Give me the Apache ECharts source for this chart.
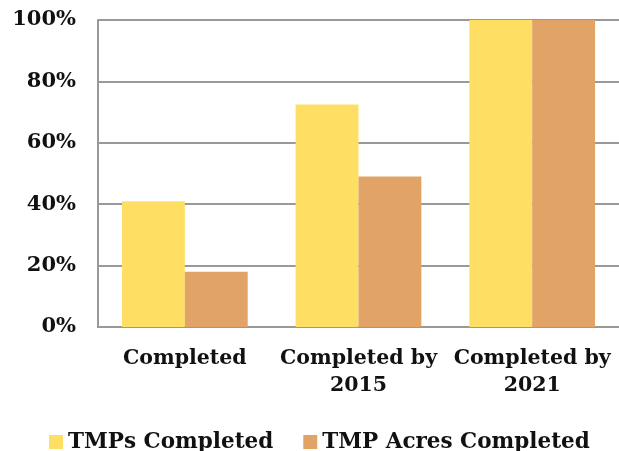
<!DOCTYPE html>
<html>
<head>
<meta charset="utf-8">
<script src="https://cdn.jsdelivr.net/npm/echarts@6/dist/echarts.min.js"></script>
<style>
  html, body { margin: 0; padding: 0; background: #fff; }
  #chart { width: 619px; height: 451px; }
</style>
</head>
<body>
<div id="chart"></div>
<script>
// Share of timber management plans and of their acres completed, by milestone
const categories = ['Completed', 'Completed by\n2015', 'Completed by\n2021'];
const tmpsCompleted = [41, 72.5, 100];
const tmpAcresCompleted = [18, 49, 100];
const yTicks = [0, 20, 40, 60, 80, 100];

const font = '"DejaVu Serif", "Liberation Serif", serif';
const chart = echarts.init(document.getElementById('chart'));

chart.setOption({
  animation: false,
  backgroundColor: '#ffffff',
  grid: { left: 98, top: 20, width: 522, bottom: 124, containLabel: false },
  xAxis: {
    type: 'category',
    data: categories,
    axisLine: { show: true, lineStyle: { color: '#999999', width: 2 } },
    axisTick: { show: false },
    axisLabel: {
      color: '#111111', fontFamily: font, fontWeight: 'bold', fontSize: 20.5,
      lineHeight: 27, margin: 18, interval: 0
    }
  },
  yAxis: {
    type: 'value',
    min: yTicks[0],
    max: yTicks[yTicks.length - 1],
    interval: yTicks[1] - yTicks[0],
    axisLine: { show: true, lineStyle: { color: '#999999', width: 2 } },
    axisTick: { show: false },
    splitLine: { lineStyle: { color: '#999999', width: 2 } },
    axisLabel: {
      color: '#111111', fontFamily: font, fontWeight: 'bold', fontSize: 21,
      margin: 22, formatter: v => v + '%'
    }
  },
  legend: {
    left: 49, top: 431, padding: 0,
    itemWidth: 14, itemHeight: 14, itemGap: 30,
    icon: 'rect',
    textStyle: { color: '#111111', fontFamily: font, fontWeight: 'bold', fontSize: 21.5 },
    data: ['TMPs Completed', 'TMP Acres Completed']
  },
  series: [
    {
      name: 'TMPs Completed', type: 'bar', data: tmpsCompleted,
      barGap: '0%', barCategoryGap: '27.6%',
      itemStyle: { color: '#FFDF63' }
    },
    {
      name: 'TMP Acres Completed', type: 'bar', data: tmpAcresCompleted,
      barGap: '0%', barCategoryGap: '27.6%',
      itemStyle: { color: '#E1A466' }
    }
  ]
});
</script>
</body>
</html>
